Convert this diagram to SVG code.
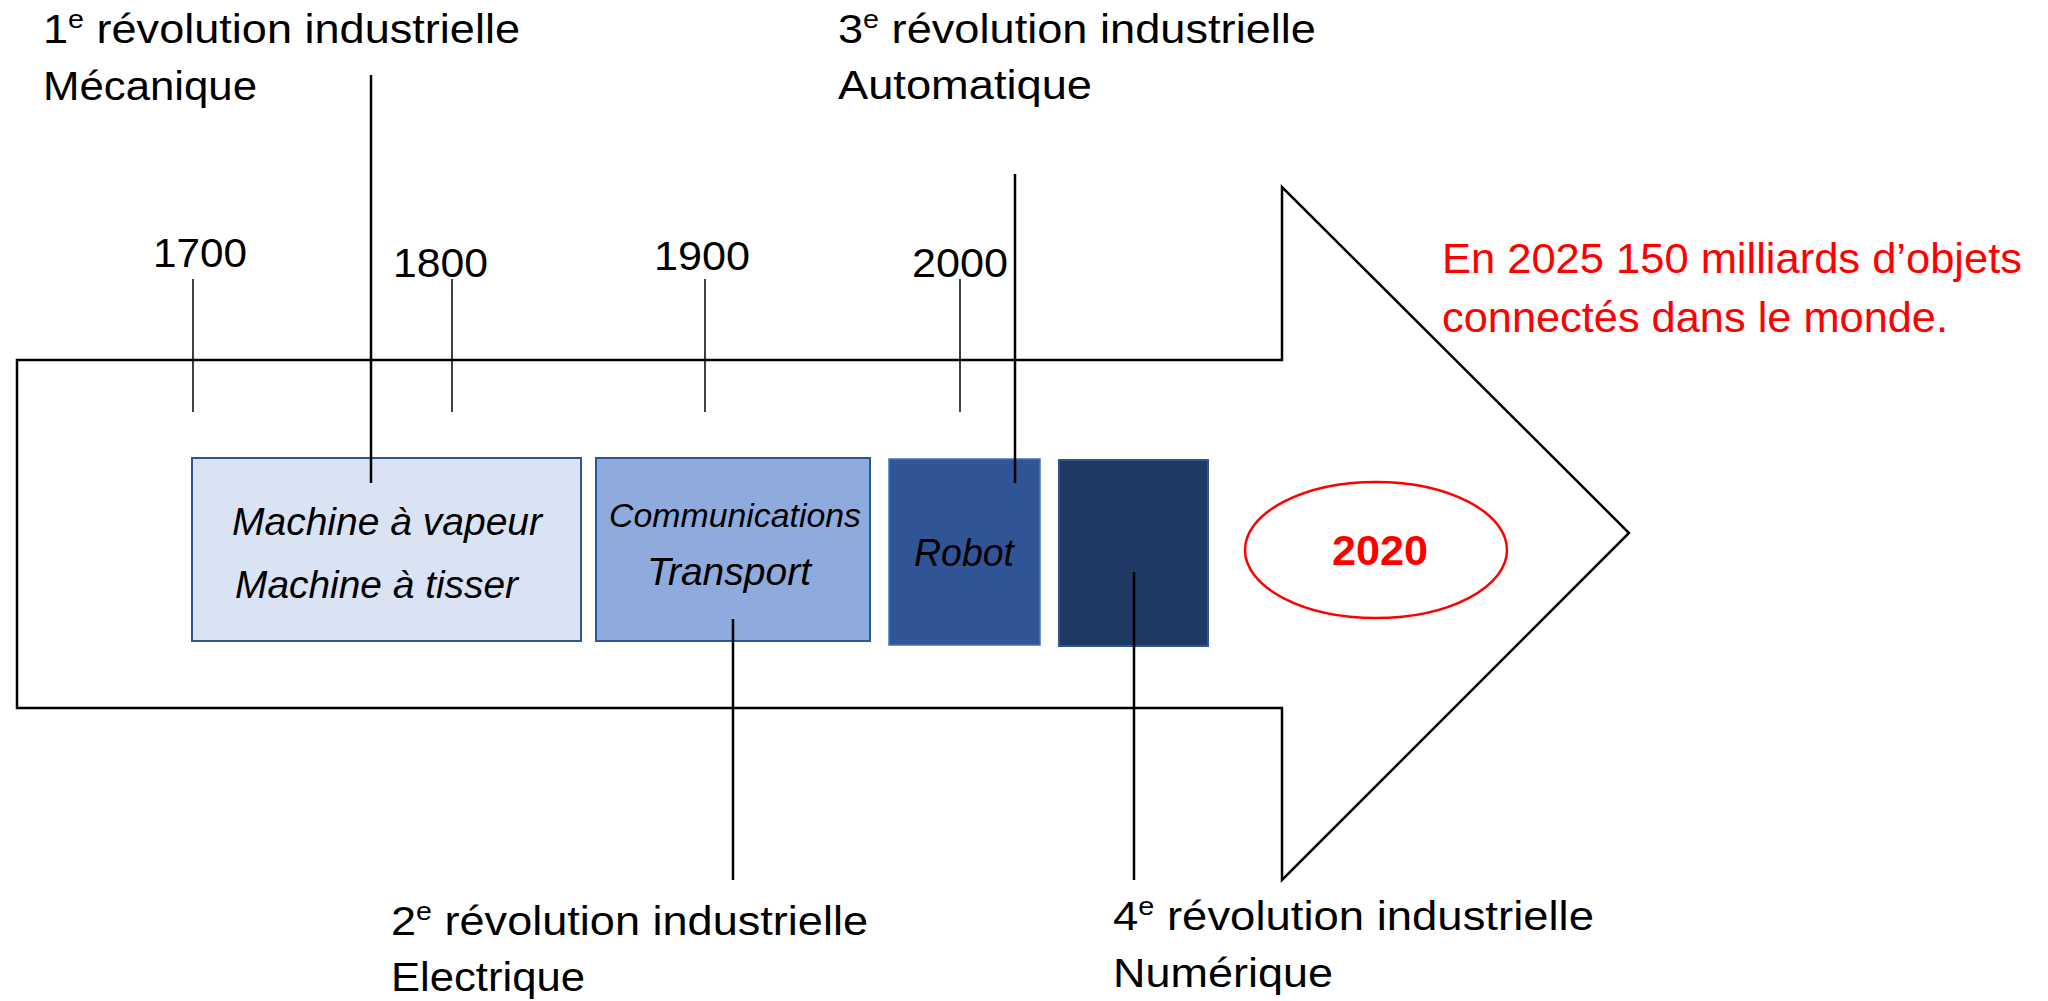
<svg xmlns="http://www.w3.org/2000/svg" width="2048" height="1001" viewBox="0 0 2048 1001">
<style>
  .lbl{font-family:"Liberation Sans",Arial,sans-serif;font-size:41px;fill:#000}
  .year{font-family:"Liberation Sans",Arial,sans-serif;font-size:41px;fill:#000}
  .red{font-family:"Liberation Sans",Arial,sans-serif;font-size:42px;fill:#FF0000}
  .box{font-family:"Liberation Sans",Arial,sans-serif;font-style:italic;font-size:38px;fill:#000}
  .sup{font-size:26px}
  .tick{stroke:#000;stroke-width:1.5;fill:none}
  .conn{stroke:#000;stroke-width:2.5;fill:none}
</style>
<rect width="2048" height="1001" fill="#fff"/>
<g id="arrow">
  <path d="M17,360 H1282 V187 L1629,533 L1282,880 V708 H17 Z" fill="#fff" stroke="#000" stroke-width="2.5" stroke-linejoin="miter"/>
</g>
<g id="ticks">
  <line class="tick" x1="193" y1="279" x2="193" y2="412"/>
  <line class="tick" x1="452" y1="279" x2="452" y2="412"/>
  <line class="tick" x1="705" y1="279" x2="705" y2="412"/>
  <line class="tick" x1="960" y1="279" x2="960" y2="412"/>
</g>
<g id="years">
  <text class="year" x="153" y="267" textLength="94" lengthAdjust="spacingAndGlyphs">1700</text>
  <text class="year" x="393" y="277" textLength="95" lengthAdjust="spacingAndGlyphs">1800</text>
  <text class="year" x="654" y="270" textLength="96" lengthAdjust="spacingAndGlyphs">1900</text>
  <text class="year" x="912" y="277" textLength="96" lengthAdjust="spacingAndGlyphs">2000</text>
</g>
<g id="box1">
  <rect x="192" y="458" width="389" height="183" fill="#DAE3F3" stroke="#2F5597" stroke-width="2"/>
  <text class="box" x="232" y="535" textLength="310" lengthAdjust="spacingAndGlyphs">Machine à vapeur</text>
  <text class="box" x="235" y="598" textLength="283" lengthAdjust="spacingAndGlyphs">Machine à tisser</text>
</g>
<g id="box2">
  <rect x="596" y="458" width="274" height="183" fill="#8FAADC" stroke="#2F5597" stroke-width="2"/>
  <text class="box" x="609" y="527" style="font-size:33px" textLength="252" lengthAdjust="spacingAndGlyphs">Communications</text>
  <text class="box" x="647" y="585" textLength="164" lengthAdjust="spacingAndGlyphs">Transport</text>
</g>
<g id="box3">
  <rect x="889" y="459" width="151" height="186" fill="#2F5597" stroke="#4472C4" stroke-width="1.5"/>
  <text class="box" x="914" y="566" textLength="100" lengthAdjust="spacingAndGlyphs">Robot</text>
</g>
<g id="box4">
  <rect x="1059" y="460" width="149" height="186" fill="#203864" stroke="#2F5597" stroke-width="2"/>
</g>
<g id="y2020">
  <ellipse cx="1376" cy="550" rx="131" ry="68" fill="#fff" stroke="#FF0000" stroke-width="2.5"/>
  <text x="1380" y="565" text-anchor="middle" style="font-family:'Liberation Sans',Arial,sans-serif;font-weight:bold;font-size:42px;fill:#FF0000" textLength="96" lengthAdjust="spacingAndGlyphs">2020</text>
</g>
<g id="connectors">
  <line class="conn" x1="371" y1="75" x2="371" y2="483"/>
  <line class="conn" x1="1015" y1="174" x2="1015" y2="483"/>
  <line class="conn" x1="733" y1="619" x2="733" y2="880"/>
  <line class="conn" x1="1134" y1="572" x2="1134" y2="880"/>
</g>
<g id="rev1">
  <text class="lbl" x="43" y="43" textLength="477" lengthAdjust="spacingAndGlyphs">1<tspan class="sup" baseline-shift="super">e</tspan> révolution industrielle</text>
  <text class="lbl" x="43" y="100" textLength="214" lengthAdjust="spacingAndGlyphs">Mécanique</text>
</g>
<g id="rev2">
  <text class="lbl" x="391" y="935" textLength="477" lengthAdjust="spacingAndGlyphs">2<tspan class="sup" baseline-shift="super">e</tspan> révolution industrielle</text>
  <text class="lbl" x="391" y="991" textLength="194" lengthAdjust="spacingAndGlyphs">Electrique</text>
</g>
<g id="rev3">
  <text class="lbl" x="838" y="43" textLength="478" lengthAdjust="spacingAndGlyphs">3<tspan class="sup" baseline-shift="super">e</tspan> révolution industrielle</text>
  <text class="lbl" x="838" y="99" textLength="254" lengthAdjust="spacingAndGlyphs">Automatique</text>
</g>
<g id="rev4">
  <text class="lbl" x="1113" y="930" textLength="481" lengthAdjust="spacingAndGlyphs">4<tspan class="sup" baseline-shift="super">e</tspan> révolution industrielle</text>
  <text class="lbl" x="1113" y="987" textLength="220" lengthAdjust="spacingAndGlyphs">Numérique</text>
</g>
<g id="note">
  <text class="red" x="1442" y="273" textLength="580" lengthAdjust="spacingAndGlyphs">En 2025 150 milliards d’objets</text>
  <text class="red" x="1442" y="332" textLength="506" lengthAdjust="spacingAndGlyphs">connectés dans le monde.</text>
</g>
</svg>
